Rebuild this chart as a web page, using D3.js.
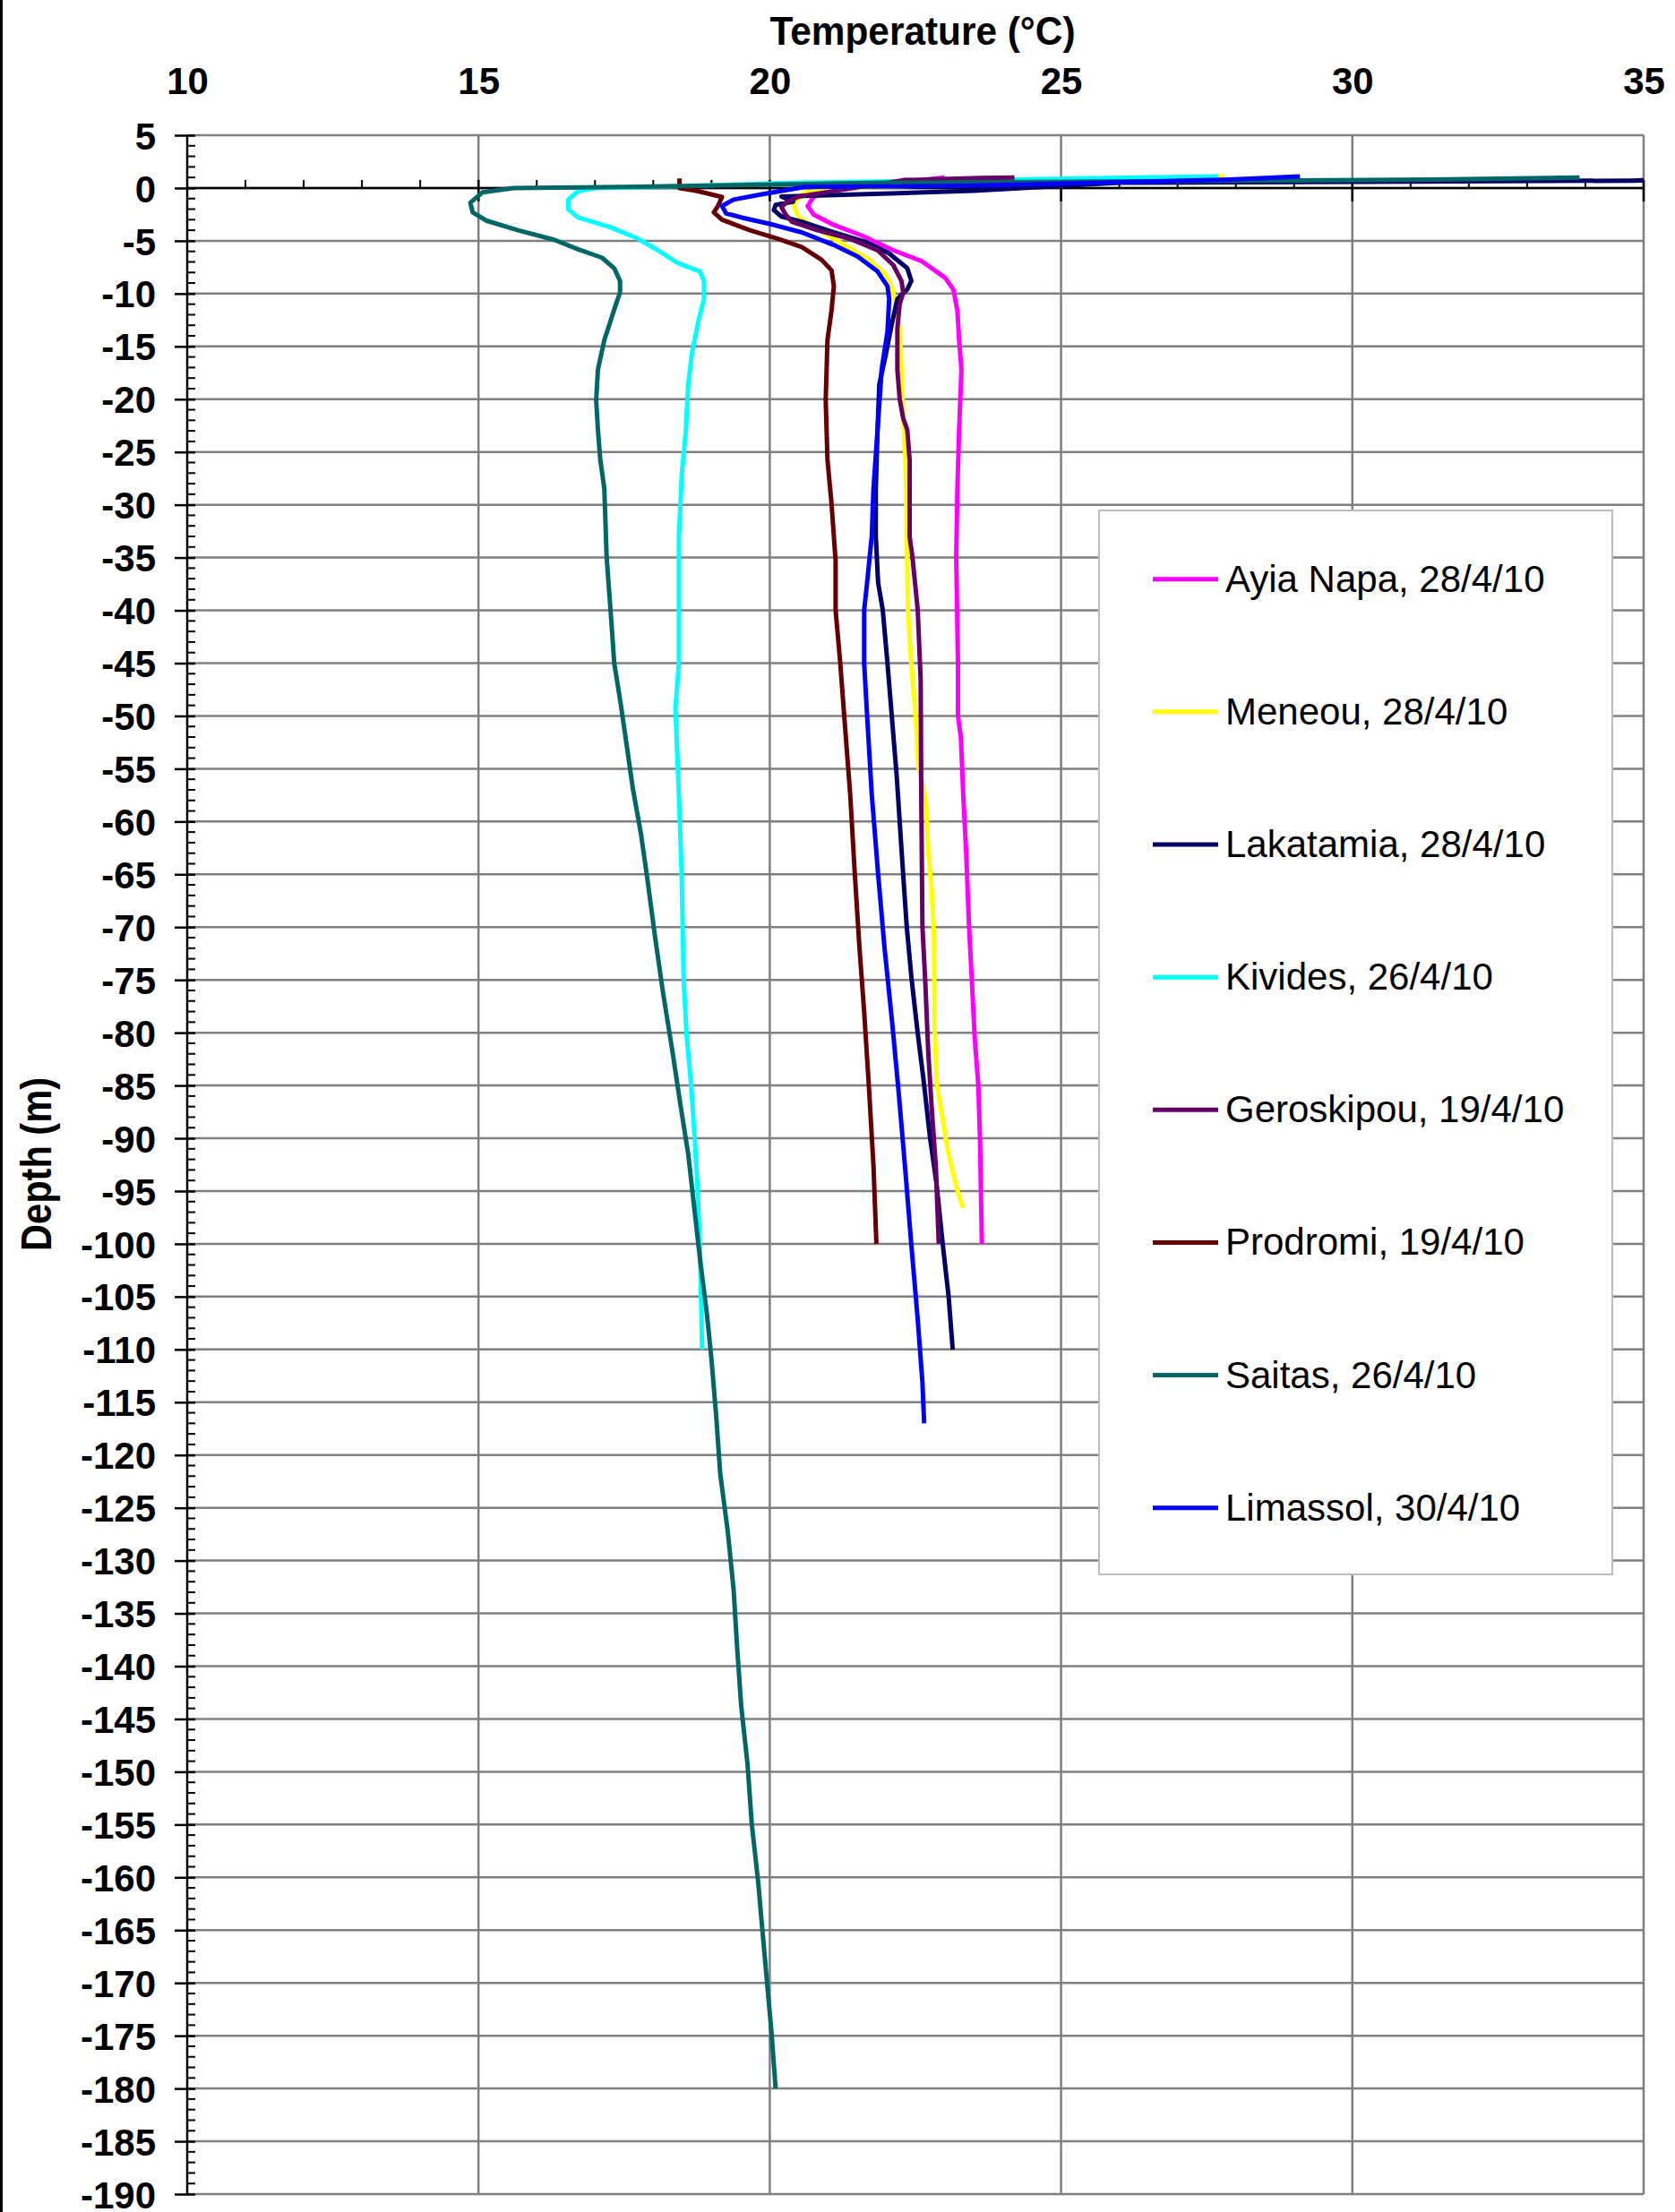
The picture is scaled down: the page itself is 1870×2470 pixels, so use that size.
<!DOCTYPE html>
<html><head><meta charset="utf-8">
<script src="https://cdn.jsdelivr.net/npm/d3@7"></script>
<style>body{margin:0;background:#fff} svg{display:block}</style>
</head><body>
<svg id="c" width="1870" height="2470"></svg>
<script>
// ---- data ----
const xTicks = [10, 15, 20, 25, 30, 35];
const yTicks = d3.range(5, -191, -5);
const seriesNames = ["Ayia Napa, 28/4/10", "Meneou, 28/4/10", "Lakatamia, 28/4/10", "Kivides, 26/4/10",
  "Geroskipou, 19/4/10", "Prodromi, 19/4/10", "Saitas, 26/4/10", "Limassol, 30/4/10"];
const seriesColors = ["#ff00ff", "#ffff00", "#000066", "#00ffff", "#660066", "#660000", "#006666", "#0000ff"];

// [temperature °C, depth m]
const ayiaNapa = [[23.0,1.0],[21.0,-0.3],[20.75,-0.85],[20.65,-1.7],[20.75,-2.5],[21.1,-3.5],[21.58,-4.5],[22.12,-5.9],[22.6,-6.9],[23.01,-8.5],[23.15,-9.6],[23.22,-11.6],[23.25,-14.4],[23.29,-17.2],[23.25,-22.9],[23.22,-28.5],[23.2,-35],[23.23,-45],[23.23,-50],[23.28,-52],[23.32,-57.4],[23.37,-62.8],[23.42,-69.9],[23.48,-76.3],[23.52,-80.7],[23.58,-85],[23.61,-90.4],[23.64,-100]];
const meneou = [[27.8,1.1],[21.6,0.05],[20.6,-0.4],[20.4,-1.5],[20.5,-2.8],[20.8,-3.8],[21.1,-4.8],[21.71,-6.8],[21.99,-8.2],[22.09,-9.3],[22.16,-11],[22.23,-13.3],[22.26,-17.2],[22.29,-21.5],[22.33,-25.7],[22.36,-35.3],[22.37,-40],[22.43,-45],[22.51,-50.4],[22.55,-54.7],[22.68,-58],[22.72,-62.8],[22.78,-66.6],[22.82,-70.9],[22.83,-79.6],[22.87,-85],[22.97,-88.2],[23.05,-91],[23.16,-93.6],[23.24,-95.3],[23.32,-96.6]];
const lakatamia = [[37,1.0],[34.8,0.7],[26,0.5],[23.5,-0.25],[22.2,-0.5],[20.2,-0.8],[20.4,-1.3],[20.1,-1.6],[20.07,-2.1],[20.2,-2.7],[20.55,-3.2],[21.1,-4.2],[21.64,-5.1],[22.05,-6.2],[22.36,-7.6],[22.43,-8.8],[22.36,-9.6],[22.19,-10.5],[22.09,-13],[21.99,-15.8],[21.88,-18.6],[21.85,-22.9],[21.82,-28.5],[21.82,-33],[21.86,-37.4],[21.94,-40],[22.02,-45],[22.1,-50.4],[22.18,-55.8],[22.27,-63.4],[22.35,-69.9],[22.43,-74.7],[22.54,-80.1],[22.64,-84.5],[22.75,-89.9],[22.86,-94.2],[22.97,-100.1],[23.07,-105],[23.14,-110]];
const kivides = [[27.7,1.1],[20.5,0.5],[17.7,0.05],[17.0,0.0],[16.71,-0.3],[16.54,-1.1],[16.54,-2.0],[16.71,-2.8],[17.26,-3.7],[17.74,-4.8],[18.08,-5.9],[18.42,-7.1],[18.8,-7.9],[18.87,-8.8],[18.87,-10.5],[18.77,-12.7],[18.66,-15.8],[18.6,-18.6],[18.56,-22.9],[18.49,-27.1],[18.44,-33],[18.44,-45],[18.38,-49.3],[18.44,-57.4],[18.49,-65.5],[18.52,-74.7],[18.57,-80.1],[18.65,-85],[18.71,-89.9],[18.76,-94.7],[18.8,-100.1],[18.84,-110]];
const geroskipou = [[24.2,1.0],[23.6,0.95],[22.3,0.75],[20.5,-0.8],[20.3,-1.3],[20.2,-1.8],[20.27,-2.5],[20.38,-3.2],[20.82,-4],[21.37,-4.8],[21.85,-5.9],[22.12,-7.3],[22.26,-8.8],[22.29,-9.9],[22.23,-11],[22.19,-13.3],[22.19,-17.2],[22.23,-20],[22.29,-21.8],[22.36,-22.9],[22.4,-25.7],[22.4,-33],[22.45,-35],[22.54,-40],[22.59,-46.6],[22.6,-57.4],[22.62,-69.9],[22.67,-75.3],[22.72,-81.8],[22.78,-87.2],[22.85,-92.6],[22.9,-100]];
const prodromi = [[18.45,0.9],[18.45,0.0],[18.77,-0.3],[19.18,-0.85],[19.11,-1.7],[19.04,-2.3],[19.18,-3.0],[19.66,-4.0],[20.14,-4.8],[20.55,-5.6],[20.89,-6.8],[21.06,-7.8],[21.1,-9.3],[21.06,-11.6],[20.99,-14.4],[20.96,-20.1],[20.99,-25.7],[21.06,-29.9],[21.13,-35.3],[21.13,-40],[21.21,-45],[21.29,-50.9],[21.38,-57.4],[21.46,-65],[21.54,-72],[21.62,-78],[21.7,-85],[21.78,-92.6],[21.83,-100]];
const saitas = [[33.9,1.0],[31.4,0.8],[22.0,0.5],[17.5,0.1],[15.6,0.0],[15.07,-0.4],[14.86,-1.4],[14.9,-2.3],[15.14,-3.1],[15.68,-4.0],[16.3,-4.9],[16.71,-5.8],[17.12,-6.6],[17.33,-7.6],[17.43,-8.8],[17.43,-9.9],[17.36,-11],[17.26,-12.7],[17.16,-14.4],[17.05,-17.2],[17.02,-20.1],[17.05,-22.9],[17.09,-25.7],[17.16,-28.5],[17.2,-35],[17.28,-41],[17.33,-45],[17.44,-48.8],[17.55,-53],[17.65,-56.9],[17.79,-61.2],[17.9,-65.5],[18.03,-70.9],[18.17,-76.3],[18.33,-81.8],[18.46,-86.6],[18.6,-91.5],[18.71,-96.9],[18.81,-101.8],[18.92,-106.6],[19.0,-111],[19.08,-116.3],[19.15,-121.8],[19.28,-127.3],[19.38,-132.8],[19.44,-138.3],[19.51,-143.8],[19.62,-149.4],[19.69,-154.9],[19.8,-160.4],[19.87,-164.8],[19.95,-169.8],[20.03,-174.7],[20.1,-180]];
const limassol = [[29.1,1.1],[27.9,0.8],[23.3,0.2],[20.6,0.1],[19.86,-0.6],[19.38,-1.1],[19.18,-1.7],[19.25,-2.4],[19.52,-2.8],[20.0,-3.4],[20.55,-4.2],[21.1,-5.4],[21.51,-6.5],[21.85,-7.9],[22.02,-9.3],[22.05,-10.5],[22.02,-13.6],[21.92,-17.2],[21.85,-22.9],[21.78,-28.5],[21.75,-33],[21.67,-37.4],[21.62,-40],[21.62,-45],[21.67,-49.9],[21.75,-57.4],[21.86,-65],[21.97,-72],[22.1,-79],[22.21,-85.5],[22.32,-92.6],[22.43,-100.1],[22.54,-107.2],[22.62,-113.1],[22.65,-117]];
const seriesData = [ayiaNapa, meneou, lakatamia, kivides, geroskipou, prodromi, saitas, limassol];

// ---- layout ----
const svg = d3.select("#c");
const L = 209, R = 1835, T = 151, B = 2450;
const x = d3.scaleLinear().domain([10, 35]).range([L, R]);
const y = d3.scaleLinear().domain([5, -190]).range([T, B]);
const gridColor = "#7f7f7f";
const font = "'Liberation Sans', Arial, sans-serif";

svg.append("rect").attr("width", 1870).attr("height", 2470).attr("fill", "#fff");
svg.append("rect").attr("x", 0).attr("y", 0).attr("width", 3).attr("height", 2470).attr("fill", "#000");

// grid
const grid = svg.append("g");
grid.selectAll("line.h").data(yTicks).join("line")
  .attr("x1", L).attr("x2", R).attr("y1", d => y(d)).attr("y2", d => y(d))
  .attr("stroke", gridColor).attr("stroke-width", 2.5);
grid.selectAll("line.v").data(xTicks.filter(d => d > 10)).join("line")
  .attr("x1", d => x(d)).attr("x2", d => x(d)).attr("y1", T).attr("y2", B)
  .attr("stroke", gridColor).attr("stroke-width", 2.5);

// clip
svg.append("defs").append("clipPath").attr("id", "plot")
  .append("rect").attr("x", L).attr("y", T - 2).attr("width", R - L).attr("height", B - T + 4);

// y axis (labels + major ticks)
const yAxis = d3.axisLeft(y).tickValues(yTicks).tickFormat(d => String(d))
  .tickSize(14).tickPadding(21);
const gy = svg.append("g").attr("transform", `translate(${L},0)`).call(yAxis);
gy.select(".domain").remove();
gy.selectAll(".tick line").attr("x1", 9).attr("x2", -14).attr("stroke", "#000").attr("stroke-width", 2.5);
gy.selectAll(".tick text").attr("dy", "0.36em").attr("font-family", font).attr("font-weight", "bold")
  .attr("font-size", 42).attr("fill", "#000");
// y minor ticks
svg.append("g").selectAll("line").data(d3.range(5, -191, -1).filter(d => d % 5 !== 0)).join("line")
  .attr("x1", L).attr("x2", L + 9).attr("y1", d => y(d)).attr("y2", d => y(d))
  .attr("stroke", "#000").attr("stroke-width", 2);
svg.append("line").attr("x1", L).attr("x2", L).attr("y1", T).attr("y2", B)
  .attr("stroke", "#000").attr("stroke-width", 2.5);

// x axis labels at top
const xAxis = d3.axisTop(x).tickValues(xTicks).tickFormat(d => String(d)).tickSize(0).tickPadding(0);
const gx = svg.append("g").attr("transform", "translate(0,105)").call(xAxis);
gx.select(".domain").remove();
gx.selectAll(".tick text").attr("font-family", font).attr("font-weight", "bold")
  .attr("font-size", 42).attr("fill", "#000");

// x axis line at depth 0
const y0 = y(0);
svg.append("line").attr("x1", L).attr("x2", R).attr("y1", y0).attr("y2", y0)
  .attr("stroke", "#000").attr("stroke-width", 2.5);
svg.append("g").selectAll("line").data(d3.range(11, 35, 1).filter(d => d % 5 !== 0)).join("line")
  .attr("x1", d => x(d)).attr("x2", d => x(d)).attr("y1", y0 - 9).attr("y2", y0)
  .attr("stroke", "#000").attr("stroke-width", 2);
svg.append("g").selectAll("line").data(xTicks.filter(d => d > 10)).join("line")
  .attr("x1", d => x(d)).attr("x2", d => x(d)).attr("y1", y0 - 9).attr("y2", y0 + 15)
  .attr("stroke", "#000").attr("stroke-width", 2.5);

// series
const line = d3.line().x(d => x(d[0])).y(d => y(d[1]));
const gs = svg.append("g").attr("clip-path", "url(#plot)");
seriesData.forEach((s, i) => {
  gs.append("path").attr("d", line(s)).attr("fill", "none")
    .attr("stroke", seriesColors[i]).attr("stroke-width", 5).attr("stroke-linejoin", "round");
});

// titles
svg.append("text").attr("x", 1030).attr("y", 50).attr("text-anchor", "middle")
  .attr("font-family", font).attr("font-weight", "bold").attr("font-size", 44)
  .attr("textLength", 341).attr("lengthAdjust", "spacingAndGlyphs").text("Temperature (°C)");
svg.append("text").attr("transform", "translate(57,1300) rotate(-90)").attr("text-anchor", "middle")
  .attr("font-family", font).attr("font-weight", "bold").attr("font-size", 48)
  .attr("textLength", 194).attr("lengthAdjust", "spacingAndGlyphs").text("Depth (m)");

// legend
const lg = svg.append("g");
lg.append("rect").attr("x", 1227).attr("y", 570).attr("width", 573).attr("height", 1188)
  .attr("fill", "#fff").attr("stroke", "#bdbdbd").attr("stroke-width", 2);
const ly = d3.scaleLinear().domain([0, 7]).range([646.7, 1683.7]);
seriesNames.forEach((n, i) => {
  lg.append("line").attr("x1", 1287).attr("x2", 1360).attr("y1", ly(i)).attr("y2", ly(i))
    .attr("stroke", seriesColors[i]).attr("stroke-width", 5);
  lg.append("text").attr("x", 1368).attr("y", ly(i) + 14).attr("font-family", font)
    .attr("font-size", 42).attr("fill", "#000").text(n);
});
</script>
</body></html>
